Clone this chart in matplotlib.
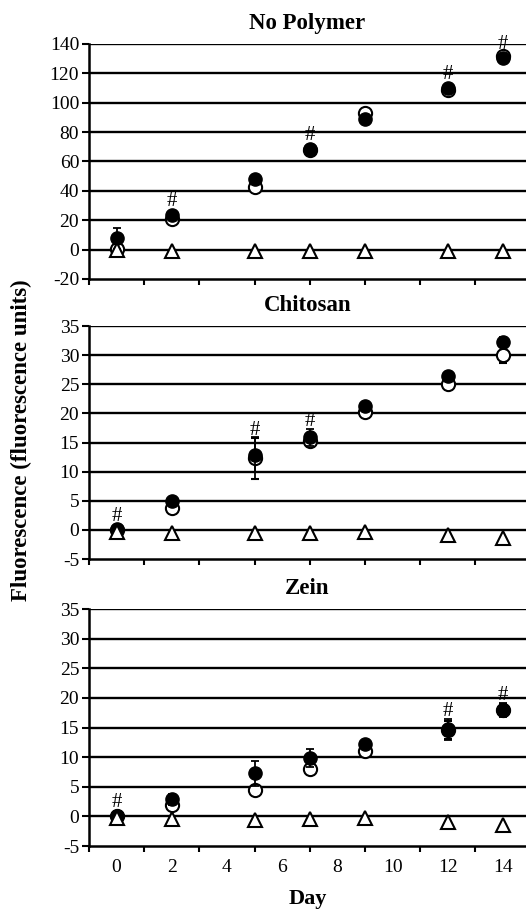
import numpy as np
import matplotlib
matplotlib.use("Agg")
import matplotlib.pyplot as plt

plt.rcParams['font.family'] = ['Liberation Serif', 'DejaVu Serif']
plt.rcParams['axes.unicode_minus'] = False

days = [0, 2, 5, 7, 9, 12, 14]
titles = ['No Polymer', 'Chitosan', 'Zein']

# filled circles
filled = [
    [7.6, 23.7, 47.8, 68.5, 89.0, 110.0, 130.5],
    [0.1, 5.0, 12.9, 15.9, 21.2, 26.5, 32.3],
    [0.1, 2.9, 7.3, 9.8, 12.2, 14.7, 18.0],
]
filled_err = [
    [7.0, 1.0, 1.0, 1.0, 1.0, 1.5, 2.0],
    [0.5, 0.5, 3.0, 1.5, 0.6, 0.6, 0.8],
    [0.5, 0.9, 2.1, 1.5, 0.5, 1.8, 1.2],
]
# open circles
opened = [
    [0.7, 20.7, 42.5, 68.0, 93.0, 109.0, 131.5],
    [0.0, 3.7, 12.3, 15.3, 20.2, 25.0, 30.0],
    [0.0, 2.0, 4.5, 8.0, 11.1, 14.6, 18.0],
]
opened_err = [
    [1.0, 1.0, 1.0, 1.0, 1.0, 1.0, 1.0],
    [0.3, 0.3, 3.5, 0.6, 0.5, 0.5, 1.4],
    [0.3, 0.5, 0.5, 0.9, 1.1, 1.5, 1.0],
]
# triangles
tri = [
    [-0.5, -0.8, -0.8, -0.8, -0.8, -0.8, -1.0],
    [-0.3, -0.6, -0.6, -0.6, -0.3, -0.9, -1.4],
    [-0.3, -0.5, -0.6, -0.5, -0.3, -0.9, -1.4],
]
# days marked with '#'
hash_days = [[2, 7, 12, 14], [0, 5, 7], [0, 12, 14]]

ylims = [(-20, 140), (-5, 35), (-5, 35)]
ysteps = [20, 5, 5]
axpos = [
    [0.169, 0.6931, 0.831, 0.2585],
    [0.169, 0.3850, 0.831, 0.2563],
    [0.169, 0.0693, 0.831, 0.2607],
]

fig = plt.figure(figsize=(5.26, 9.09), dpi=100)
ms = 9.5

for i in range(3):
    ax = fig.add_axes(axpos[i])
    ax.set_xlim(-1, 14.83)
    ax.set_ylim(*ylims[i])
    ax.set_yticks(np.arange(ylims[i][0], ylims[i][1] + 1, ysteps[i]))
    for yv in ax.get_yticks()[1:]:
        ax.axhline(yv, color='black', lw=1.7, zorder=1)
    ax.set_xticks(np.arange(-1, 14, 2))
    ax.set_xticklabels([])
    ax.set_xticks(np.arange(0, 15, 2), minor=True)
    if i == 2:
        ax.set_xticklabels([str(d) for d in range(0, 15, 2)], minor=True)
        ax.set_xlabel('Day', fontsize=16, fontweight='bold', labelpad=10)
    ax.tick_params(axis='x', which='major', direction='out', length=4, width=1.5)
    ax.tick_params(axis='x', which='minor', length=0, labelsize=14, pad=9)
    ax.tick_params(axis='y', direction='out', length=5, width=1.5, labelsize=14, pad=2)
    for s in ['top', 'right']:
        ax.spines[s].set_visible(False)
    for s in ['left', 'bottom']:
        ax.spines[s].set_linewidth(1.8)
    ax.set_title(titles[i], fontsize=16.5, fontweight='bold', pad=11)

    ax.errorbar(days, opened[i], yerr=opened_err[i], fmt='o', ms=ms, mfc='white',
                mec='black', mew=1.5, ecolor='black', elinewidth=1.3, capsize=3,
                capthick=1.3, zorder=3)
    ax.errorbar(days, filled[i], yerr=filled_err[i], fmt='o', ms=ms, mfc='black',
                mec='black', ecolor='black', elinewidth=1.3, capsize=3,
                capthick=1.3, zorder=4)
    ax.plot(days, tri[i], '^', ms=9.5, mfc='white', mec='black', mew=1.5, ls='none',
            zorder=5)

    # '#' above the filled points
    ppu = axpos[i][3] * 909 / (ylims[i][1] - ylims[i][0])
    for d in hash_days[i]:
        k = days.index(d)
        top = max(filled[i][k] + filled_err[i][k], opened[i][k] + opened_err[i][k])
        top_px = max((top - filled[i][k]) * ppu, 6.5)
        ax.annotate('#', xy=(d, filled[i][k]), xytext=(0, top_px * 0.72 - 2),
                    textcoords='offset points', ha='center', va='bottom',
                    fontsize=15, zorder=6)

fig.text(0.04, 0.516, 'Fluorescence (fluorescence units)', rotation=90,
         ha='center', va='center', fontsize=16.5, fontweight='bold')

fig.savefig('out.png', dpi=100)
